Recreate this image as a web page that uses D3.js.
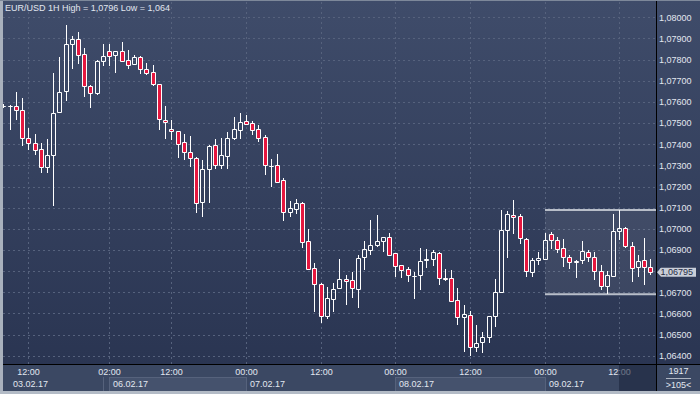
<!DOCTYPE html>
<html>
<head>
<meta charset="utf-8">
<script src="https://cdnjs.cloudflare.com/ajax/libs/d3/7.8.5/d3.min.js"></script>
<style>
  body { margin: 0; background: #2f3b57; }
  svg text { font-family: "Liberation Sans", Arial, sans-serif; font-size: 9px; fill: #e2e7f0; }
</style>
</head>
<body>
<svg id="chart" width="700" height="394"></svg>
<script>
// EUR/USD 1H candles, 03.02.17 12:00 .. 09.02.17 17:00
var open = [1.07580, 1.07579, 1.07579, 1.07560, 1.07428, 1.07404, 1.07376, 1.07291, 1.07348, 1.07551,
    1.07650, 1.07872, 1.07896, 1.07825, 1.07674, 1.07641, 1.07792, 1.07839, 1.07820, 1.07839,
    1.07797, 1.07778, 1.07811, 1.07754, 1.07740, 1.07683, 1.07513, 1.07470, 1.07461, 1.07409,
    1.07362, 1.07333, 1.07125, 1.07284, 1.07395, 1.07300, 1.07343, 1.07428, 1.07466, 1.07508,
    1.07499, 1.07470, 1.07433, 1.07298, 1.07300, 1.07229, 1.07078, 1.07092, 1.07121, 1.06941,
    1.06813, 1.06738, 1.06589, 1.06670, 1.06718, 1.06761, 1.06757, 1.06714, 1.06865, 1.06898,
    1.06922, 1.06941, 1.06960, 1.06884, 1.06827, 1.06809, 1.06777, 1.06780, 1.06851, 1.06856,
    1.06884, 1.06766, 1.06766, 1.06662, 1.06582, 1.06591, 1.06440, 1.06463, 1.06487, 1.06586,
    1.06700, 1.06993, 1.07064, 1.07059, 1.06950, 1.06794, 1.06851, 1.06856, 1.06974, 1.06946,
    1.06908, 1.06865, 1.06846, 1.06851, 1.06889, 1.06865, 1.06799, 1.06728, 1.06775, 1.06988,
    1.07002, 1.06917, 1.06818, 1.06851, 1.06818]
var high = [1.07590, 1.07585, 1.07648, 1.07618, 1.07478, 1.07447, 1.07407, 1.07425, 1.07738, 1.07812,
    1.07964, 1.07913, 1.07929, 1.07855, 1.07680, 1.07797, 1.07874, 1.07874, 1.07841, 1.07882,
    1.07844, 1.07823, 1.07817, 1.07782, 1.07773, 1.07685, 1.07579, 1.07513, 1.07463, 1.07447,
    1.07437, 1.07338, 1.07324, 1.07395, 1.07423, 1.07428, 1.07456, 1.07528, 1.07546, 1.07537,
    1.07508, 1.07489, 1.07442, 1.07329, 1.07355, 1.07239, 1.07130, 1.07140, 1.07127, 1.06999,
    1.06837, 1.06742, 1.06723, 1.06742, 1.06857, 1.06780, 1.06797, 1.06875, 1.06941, 1.07042,
    1.07065, 1.06962, 1.06979, 1.06886, 1.06829, 1.06818, 1.06794, 1.06908, 1.06903, 1.06898,
    1.06889, 1.06809, 1.06804, 1.06719, 1.06638, 1.06610, 1.06544, 1.06511, 1.06588, 1.06761,
    1.07089, 1.07083, 1.07136, 1.07070, 1.06955, 1.06861, 1.06889, 1.06979, 1.06983, 1.06960,
    1.06950, 1.06875, 1.06851, 1.06941, 1.06898, 1.06889, 1.06827, 1.06799, 1.07069, 1.07089,
    1.07007, 1.06936, 1.06875, 1.06955, 1.06856]
var low = [1.07572, 1.07467, 1.07514, 1.07392, 1.07373, 1.07349, 1.07265, 1.07265, 1.07108, 1.07546,
    1.07604, 1.07757, 1.07781, 1.07625, 1.07573, 1.07634, 1.07771, 1.07771, 1.07738, 1.07790,
    1.07754, 1.07773, 1.07733, 1.07726, 1.07677, 1.07467, 1.07426, 1.07418, 1.07336, 1.07327,
    1.07294, 1.07076, 1.07054, 1.07123, 1.07284, 1.07284, 1.07284, 1.07418, 1.07423, 1.07489,
    1.07442, 1.07409, 1.07256, 1.07199, 1.07218, 1.07035, 1.07054, 1.07069, 1.06908, 1.06807,
    1.06608, 1.06556, 1.06572, 1.06608, 1.06714, 1.06638, 1.06674, 1.06624, 1.06804, 1.06875,
    1.06913, 1.06889, 1.06873, 1.06771, 1.06766, 1.06747, 1.06670, 1.06709, 1.06816, 1.06823,
    1.06733, 1.06752, 1.06655, 1.06547, 1.06419, 1.06400, 1.06419, 1.06411, 1.06459, 1.06534,
    1.06698, 1.06861, 1.06974, 1.06927, 1.06771, 1.06771, 1.06827, 1.06854, 1.06903, 1.06884,
    1.06821, 1.06809, 1.06766, 1.06832, 1.06842, 1.06757, 1.06709, 1.06690, 1.06771, 1.06946,
    1.06908, 1.06747, 1.06771, 1.06733, 1.06780]
var close = [1.07580, 1.07580, 1.07560, 1.07428, 1.07404, 1.07371, 1.07294, 1.07348, 1.07546, 1.07645,
    1.07872, 1.07896, 1.07820, 1.07674, 1.07641, 1.07792, 1.07816, 1.07816, 1.07839, 1.07792,
    1.07773, 1.07811, 1.07754, 1.07735, 1.07683, 1.07518, 1.07504, 1.07461, 1.07402, 1.07365,
    1.07336, 1.07121, 1.07281, 1.07390, 1.07300, 1.07348, 1.07428, 1.07470, 1.07504, 1.07494,
    1.07466, 1.07428, 1.07300, 1.07297, 1.07220, 1.07078, 1.07097, 1.07121, 1.06936, 1.06809,
    1.06738, 1.06589, 1.06671, 1.06714, 1.06761, 1.06752, 1.06719, 1.06861, 1.06903, 1.06922,
    1.06941, 1.06960, 1.06875, 1.06823, 1.06804, 1.06780, 1.06776, 1.06846, 1.06856, 1.06889,
    1.06766, 1.06765, 1.06657, 1.06582, 1.06596, 1.06440, 1.06459, 1.06487, 1.06586, 1.06700,
    1.06993, 1.07069, 1.07054, 1.06955, 1.06799, 1.06851, 1.06861, 1.06946, 1.06946, 1.06903,
    1.06865, 1.06842, 1.06844, 1.06894, 1.06865, 1.06799, 1.06728, 1.06780, 1.06988, 1.07002,
    1.06917, 1.06813, 1.06846, 1.06818, 1.06795]

var priceTicks = [1.064, 1.065, 1.066, 1.067, 1.068, 1.069, 1.070, 1.071, 1.072,
    1.073, 1.074, 1.075, 1.076, 1.077, 1.078, 1.079, 1.080]
var timeTickIdx = [4, 17, 27, 39, 51, 63, 75, 87, 99]
var timeTickLabels = ["12:00", "02:00", "12:00", "00:00", "12:00", "00:00", "12:00", "00:00", "12:00"]
var dayStartIdx = [0, 17, 39, 63, 87]
var dayLabels = ["03.02.17", "06.02.17", "07.02.17", "08.02.17", "09.02.17"]
var barCounter = "1917"

var plotRight = 656, plotBottom = 364, panelBottom = 391

var svg = d3.select("#chart")
var n = open.length

var x = d3.scaleLinear().domain([0, n - 1]).range([3.4, 650.3])
var y = d3.scaleLinear().domain([1.064, 1.080]).range([355.7, 17.3])
var comma = function (v, d) { return v.toFixed(d).replace(".", ",") }

// background
var grad = svg.append("defs").append("linearGradient")
    .attr("id", "bg").attr("x1", 0).attr("y1", 0).attr("x2", 0).attr("y2", 1)
grad.append("stop").attr("offset", "0%").attr("stop-color", "#3f4c6a")
grad.append("stop").attr("offset", "100%").attr("stop-color", "#2a3552")
svg.select("defs").append("clipPath").attr("id", "plotclip")
    .append("rect").attr("x", 3).attr("y", 1).attr("width", plotRight - 3).attr("height", plotBottom - 1)

svg.append("rect").attr("width", 700).attr("height", plotBottom).attr("fill", "url(#bg)")
svg.append("rect").attr("y", plotBottom).attr("width", 700).attr("height", panelBottom - plotBottom)
    .attr("fill", "#3b4863")

var plot = svg.append("g").attr("clip-path", "url(#plotclip)")

// grid
plot.append("g").selectAll("line").data(priceTicks).enter().append("line")
    .attr("x1", 3).attr("x2", plotRight)
    .attr("y1", function (d) { return Math.round(y(d)) + 0.5 })
    .attr("y2", function (d) { return Math.round(y(d)) + 0.5 })
    .attr("stroke", "#56627d").attr("stroke-dasharray", "2,3")
plot.append("g").selectAll("line").data(timeTickIdx).enter().append("line")
    .attr("x1", function (d) { return Math.round(x(d)) + 0.5 })
    .attr("x2", function (d) { return Math.round(x(d)) + 0.5 })
    .attr("y1", 2).attr("y2", plotBottom)
    .attr("stroke", "#56627d").attr("stroke-dasharray", "2,3")

// range of the last day
var lastDay = dayStartIdx[dayStartIdx.length - 1]
var dayHigh = d3.max(high.slice(lastDay)), dayLow = d3.min(low.slice(lastDay))
var bx = Math.round(x(lastDay))
plot.append("rect")
    .attr("x", bx).attr("y", y(dayHigh))
    .attr("width", plotRight - bx).attr("height", y(dayLow) - y(dayHigh))
    .attr("fill", "rgba(255,255,255,0.07)")
plot.append("g").selectAll("line").data([dayHigh, dayLow]).enter().append("line")
    .attr("x1", bx).attr("x2", plotRight)
    .attr("y1", function (d) { return y(d) }).attr("y2", function (d) { return y(d) })
    .attr("stroke", "#b8bec9").attr("stroke-width", 2)

// candles
var candles = d3.range(n).map(function (i) {
    return { i: i, o: open[i], h: high[i], l: low[i], c: close[i] }
})
var cg = plot.append("g").selectAll("g").data(candles).enter().append("g")
cg.append("path")
    .attr("d", function (d) {
        var px = Math.round(x(d.i)) + 0.5
        var top = Math.round(y(Math.max(d.o, d.c))), bot = Math.round(y(Math.min(d.o, d.c)))
        return "M" + px + "," + Math.round(y(d.h)) + "V" + top +
            "M" + px + "," + (bot + 1) + "V" + Math.round(y(d.l))
    })
    .attr("stroke", "#fff").attr("fill", "none")
cg.append("path")
    .attr("d", function (d) {
        var px = Math.round(x(d.i))
        var top = Math.round(y(Math.max(d.o, d.c))), bot = Math.round(y(Math.min(d.o, d.c)))
        return "M" + (px - 1.5) + "," + (top + 0.5) + "h4v" + (bot - top) + "h-4Z"
    })
    .attr("stroke", "#fff")
    .attr("fill", function (d) { return d.c < d.o ? "#e5173f" : "none" })

// axis lines
svg.append("line").attr("x1", plotRight + 0.5).attr("x2", plotRight + 0.5)
    .attr("y1", 1).attr("y2", panelBottom).attr("stroke", "#000")
svg.append("line").attr("x1", 3).attr("x2", 700)
    .attr("y1", plotBottom + 0.5).attr("y2", plotBottom + 0.5).attr("stroke", "#000")

// price axis
var yAxis = svg.append("g").attr("transform", "translate(" + plotRight + ",0)")
    .call(d3.axisRight(y).tickValues(priceTicks).tickSize(0).tickPadding(3)
        .tickFormat(function (d) { return comma(d, 5) }))
yAxis.select(".domain").remove()
yAxis.selectAll("text").attr("font-family", null).attr("font-size", null)

// last price marker
var last = close[n - 1], ly = y(last)
svg.append("path")
    .attr("d", "M657," + ly + "L661," + (ly - 4.5) + "H696V" + (ly + 4.5) + "H661Z")
    .attr("fill", "#c9ced8")
svg.append("text").attr("x", 660.5).attr("y", ly + 3.2).style("fill", "#1f2a44")
    .text(comma(last, 5))

// time axis: day bands
var bands = svg.append("g")
dayStartIdx.forEach(function (d, k) {
    var x0 = Math.round(x(d)), x1 = k + 1 < dayStartIdx.length ? Math.round(x(dayStartIdx[k + 1])) : plotRight
    if (k % 2 == 1) {
        bands.append("rect").attr("x", x0 + 0.5).attr("y", 377.5)
            .attr("width", x1 - x0).attr("height", panelBottom - 377)
            .attr("fill", "#45526d").attr("stroke", "#56627c")
    } else if (k > 0) {
        bands.append("line").attr("x1", x0 + 0.5).attr("x2", x0 + 0.5)
            .attr("y1", 377).attr("y2", panelBottom).attr("stroke", "#56627c")
    }
})
bands.append("line").attr("x1", 103.5).attr("x2", 103.5).attr("y1", 377).attr("y2", panelBottom)
    .attr("stroke", "#56627c")

svg.append("g").selectAll("text").data(timeTickIdx).enter().append("text")
    .attr("x", function (d) { return Math.round(x(d)) + 0.5 })
    .attr("y", 375.3).attr("text-anchor", "middle")
    .text(function (d, k) { return timeTickLabels[k] })
svg.append("g").selectAll("text").data(dayStartIdx).enter().append("text")
    .attr("x", function (d) { return Math.max(Math.round(x(d)) + 4, 13) })
    .attr("y", 387)
    .text(function (d, k) { return dayLabels[k] })

// shaded end of the time scale
var sx = Math.round(x(timeTickIdx[timeTickIdx.length - 1]))
svg.append("rect").attr("x", sx).attr("y", plotBottom + 1)
    .attr("width", plotRight - sx).attr("height", panelBottom - plotBottom - 1)
    .attr("fill", "rgba(28,38,62,0.6)")

// bar counter
svg.append("text").attr("x", 678.5).attr("y", 374).attr("text-anchor", "middle").text(barCounter)
svg.append("line").attr("x1", 666).attr("x2", 691).attr("y1", 378.5).attr("y2", 378.5)
    .attr("stroke", "#aeb5c2")
svg.append("text").attr("x", 678.5).attr("y", 388).attr("text-anchor", "middle").text(">" + n + "<")

// title
var fmt4 = function (v) { return String(+v.toFixed(4)).replace(".", ",") }
svg.append("text").attr("x", 5).attr("y", 11)
    .text("EUR/USD 1H High = " + fmt4(d3.max(high)) + " Low = " + fmt4(d3.min(low)))

// frame
svg.append("rect").attr("width", 3).attr("height", 394).attr("fill", "#a9b1bd")
svg.append("rect").attr("width", 700).attr("height", 1).attr("fill", "#7d889a")
svg.append("rect").attr("y", panelBottom).attr("width", 700).attr("height", 394 - panelBottom).attr("fill", "#b3bbc6")
</script>
</body>
</html>
